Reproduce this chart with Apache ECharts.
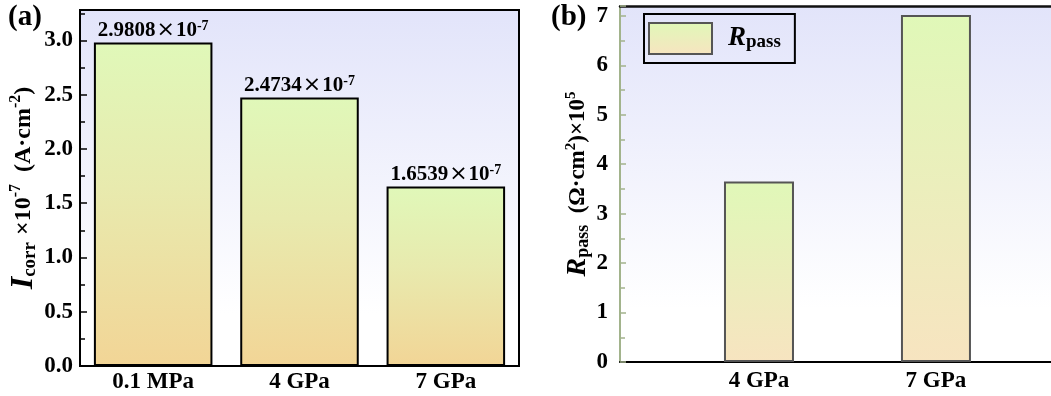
<!DOCTYPE html>
<html>
<head>
<meta charset="utf-8">
<script src="https://cdn.jsdelivr.net/npm/echarts@6/dist/echarts.min.js"></script>
<style>html,body{margin:0;padding:0;background:#fff}#c{width:1051px;height:396px}</style>
</head>
<body>
<div id="c"></div>
<script>
// ---- data ----
const catsA = ['0.1 MPa', '4 GPa', '7 GPa'];
const icorr = [2.9808, 2.4734, 1.6539];
const icorrLabels = ['2.9808', '2.4734', '1.6539'];
const catsB = ['4 GPa', '7 GPa'];
const posB = [1, 2];
const rpass = [3.65, 7.02];

const F = 'Liberation Serif';
const chart = echarts.init(document.getElementById('c'));

function lg(stops) {
  return new echarts.graphic.LinearGradient(0, 0, 0, 1, stops.map(s => ({offset: s[0], color: s[1]})));
}
const bgGrad = () => lg([[0, '#e2e4fa'], [0.85, '#ffffff'], [1, '#ffffff']]);
const barGradA = () => lg([[0, '#e0f8b9'], [0.45, '#e8eaae'], [1, '#f2d596']]);
const barGradB = () => lg([[0, '#e0f8b8'], [1, '#f7e4c0']]);

const tickLbl = {fontFamily: F, fontWeight: 'bold', fontSize: 23, color: '#000'};

const option = {
  animation: false,
  grid: [
    {left: 80, top: 10, width: 439, height: 356, show: true, backgroundColor: bgGrad(), borderColor: '#000', borderWidth: 2},
    {left: 620, top: 6, width: 431, height: 356, show: true, backgroundColor: bgGrad(), borderWidth: 0}
  ],
  xAxis: [
    {gridIndex: 0, type: 'category', data: catsA,
     axisLine: {lineStyle: {color: '#000', width: 2}}, axisTick: {show: false},
     axisLabel: Object.assign({margin: 5}, tickLbl)},
    {gridIndex: 1, type: 'value', min: 0.2147, max: 2.65, splitLine: {show: false},
     axisLine: {onZero: false, lineStyle: {color: '#000', width: 2}}, axisTick: {show: false},
     axisLabel: Object.assign({margin: 8, customValues: posB,
       formatter: v => catsB[posB.indexOf(v)] || ''}, tickLbl)},
    {gridIndex: 1, type: 'value', position: 'top', min: 0.2147, max: 2.65, splitLine: {show: false},
     axisLine: {onZero: false, lineStyle: {color: '#111', width: 2.5}}, axisTick: {show: false}, axisLabel: {show: false}}
  ],
  yAxis: [
    {gridIndex: 0, type: 'value', min: 0, max: 3.28, interval: 0.5, splitLine: {show: false},
     axisLine: {show: true, lineStyle: {color: '#000', width: 2}},
     axisTick: {show: true, inside: true, length: 7, lineStyle: {color: '#000', width: 1.5}},
     minorTick: {show: true, splitNumber: 2, length: 5, lineStyle: {color: '#000', width: 1.5}},
     axisLabel: Object.assign({margin: 7, showMaxLabel: false, formatter: v => v.toFixed(1)}, tickLbl),
     name: '{I|I}{sub|corr}{t| ×10}{sup|-7}{t|  (A·cm}{sup|-2}{t|)}',
     nameLocation: 'middle', nameRotate: 90, nameGap: 40,
     nameTextStyle: {color: '#000', fontFamily: F, fontWeight: 'bold', padding: [0, 0, 0, 0], rich: {
       I: {fontFamily: F, fontWeight: 'bold', fontStyle: 'italic', fontSize: 32, color: '#000'},
       sub: {fontFamily: F, fontWeight: 'bold', fontSize: 19, color: '#000', verticalAlign: 'bottom', padding: [0, 1, 0, 0]},
       t: {fontFamily: F, fontWeight: 'bold', fontSize: 24, color: '#000'},
       sup: {fontFamily: F, fontWeight: 'bold', fontSize: 16, color: '#000', verticalAlign: 'top'}
     }}},
    {gridIndex: 1, type: 'value', min: 0, max: 7.2, interval: 1, splitLine: {show: false},
     axisLine: {show: true, onZero: false, lineStyle: {color: '#a2b38c', width: 2}},
     axisTick: {show: true, inside: true, length: 6, lineStyle: {color: '#a2b38c', width: 1.5}},
     minorTick: {show: true, splitNumber: 2, length: 5, lineStyle: {color: '#a2b38c', width: 1.5}},
     axisLabel: Object.assign({margin: 12, showMaxLabel: false}, tickLbl),
     name: '{I|R}{sub|pass}{t|  (Ω·cm}{sup|2}{t|)×10}{sup|5}',
     nameLocation: 'middle', nameRotate: 90, nameGap: 28,
     nameTextStyle: {color: '#000', fontFamily: F, fontWeight: 'bold', rich: {
       I: {fontFamily: F, fontWeight: 'bold', fontStyle: 'italic', fontSize: 28, color: '#000'},
       sub: {fontFamily: F, fontWeight: 'bold', fontSize: 18, color: '#000', verticalAlign: 'bottom'},
       t: {fontFamily: F, fontWeight: 'bold', fontSize: 23, color: '#000'},
       sup: {fontFamily: F, fontWeight: 'bold', fontSize: 15, color: '#000', verticalAlign: 'top'}
     }}}
  ],
  legend: {
    data: ['Rpass'], left: 644, top: 14, orient: 'vertical',
    borderColor: '#000', borderWidth: 2, padding: [8, 14, 8, 4],
    itemWidth: 63, itemHeight: 31, icon: 'rect',
    formatter: () => '{r|R}{p|pass}',
    textStyle: {rich: {
      r: {fontFamily: F, fontWeight: 'bold', fontStyle: 'italic', fontSize: 27, color: '#000', padding: [0, 0, 0, 11]},
      p: {fontFamily: F, fontWeight: 'bold', fontSize: 19, color: '#000', verticalAlign: 'bottom'}
    }}
  },
  series: [
    {name: 'Icorr', type: 'bar', xAxisIndex: 0, yAxisIndex: 0, data: icorr, barCategoryGap: '19%',
     itemStyle: {color: barGradA(), borderColor: '#000', borderWidth: 2},
     label: {show: true, position: 'top', distance: 1,
       formatter: p => '{t|' + icorrLabels[p.dataIndex] + '}{x|×}{t|10}{s|-7}',
       rich: {
         t: {fontFamily: F, fontWeight: 'bold', fontSize: 21, color: '#000'},
         x: {fontFamily: 'DejaVu Sans', fontSize: 22, color: '#000', padding: [0, 1, 0, 1]},
         s: {fontFamily: F, fontWeight: 'bold', fontSize: 14, color: '#000', verticalAlign: 'top'}
       }}},
    {name: 'Rpass', type: 'bar', xAxisIndex: 1, yAxisIndex: 1, data: posB.map((x, i) => [x, rpass[i]]), barWidth: 70,
     itemStyle: {color: barGradB(), borderColor: '#555', borderWidth: 2}}
  ],
  graphic: [
    {type: 'text', left: 8, top: 3, style: {text: '(a)', fontFamily: F, fontWeight: 'bold', fontSize: 29, fill: '#000'}},
    {type: 'text', left: 551, top: 3, style: {text: '(b)', fontFamily: F, fontWeight: 'bold', fontSize: 29, fill: '#000'}}
  ]
};
chart.setOption(option);
</script>
</body>
</html>
